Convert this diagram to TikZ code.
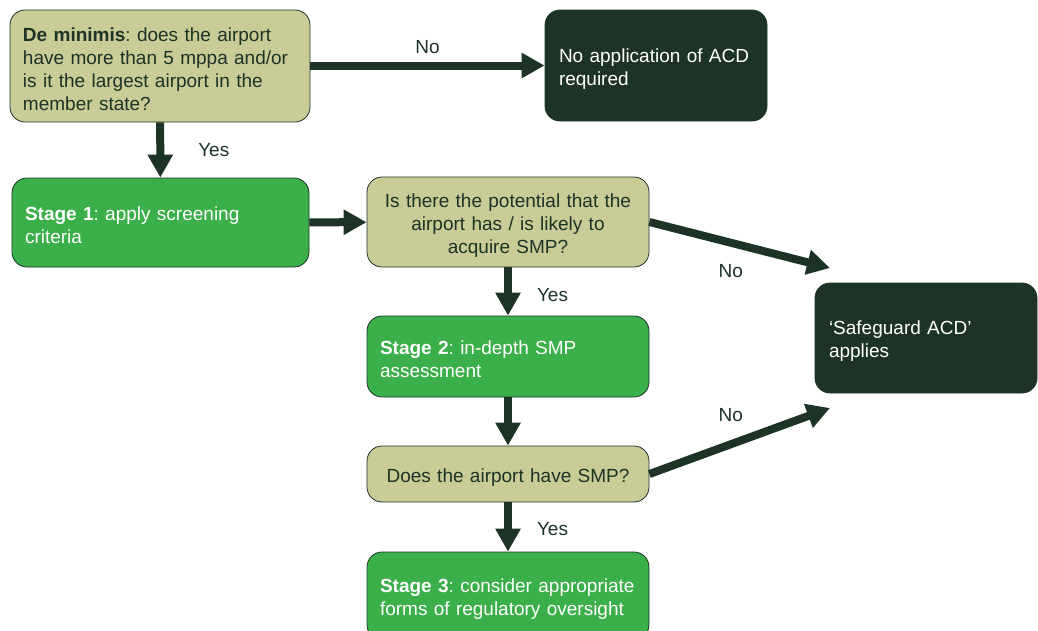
\documentclass[tikz,border=0pt]{standalone}
\usepackage{fontspec}
\setmainfont{Liberation Sans}
\usetikzlibrary{arrows.meta}
\definecolor{khaki}{HTML}{C9CC96}
\definecolor{forest}{HTML}{1C3326}
\definecolor{leaf}{HTML}{3BAF49}
\frenchspacing
\hyphenpenalty=10000
\newcommand{\toplift}{\rule{0pt}{20pt}}
\tikzset{
    >={Triangle[width=24pt,length=23pt]} % Default arrow tip
}
\tikzstyle{box}=[
    draw = forest,
    line width = 0.8pt,
    rounded corners = 15pt,
    inner sep = 0pt,
    align = left,
    font = \fontsize{19}{23}\selectfont
]
\tikzstyle{question}=[box, fill = khaki, text = forest]
\tikzstyle{stagebox}=[box, fill = leaf, text = white]
\tikzstyle{outcome}=[box, fill = forest, text = white]
\tikzstyle{flow}=[->, draw = forest, line width = 8pt]
\tikzstyle{lbl}=[inner sep = 0pt, text = forest, font = \fontsize{19}{23}\selectfont]

\begin{document}
\begin{tikzpicture}[x=1pt, y=-1pt]
    \clip (0,0) rectangle (1038,630);

    % left column
    \node[question, minimum width=300pt, minimum height=112pt, text width=274pt]
        (demin) at (160,66)
        {\toplift\textbf{De minimis}: does the airport\\ have more than 5 mppa and/or\\ is it the largest airport in the\\ member state?};
    \node[stagebox, minimum width=297pt, minimum height=89pt, text width=271pt]
        (stage1) at (160.5,222.5)
        {\toplift\textbf{Stage 1}: apply screening\\ criteria};

    % middle column
    \node[question, minimum width=282pt, minimum height=90pt, text width=270pt, align=center]
        (potential) at (508,222)
        {\toplift Is there the potential that the\\ airport has / is likely to\\ acquire SMP?};
    \node[stagebox, minimum width=282pt, minimum height=81pt, text width=256pt]
        (stage2) at (508,356.5)
        {\toplift\textbf{Stage 2}: in-depth SMP\\ assessment};
    \node[question, minimum width=282pt, minimum height=56pt, text width=270pt, align=center]
        (hassmp) at (508,474)
        {\toplift Does the airport have SMP?};
    \node[stagebox, minimum width=282pt, minimum height=88pt, text width=256pt]
        (stage3) at (508,596)
        {\toplift\textbf{Stage 3}: consider appropriate\\ forms of regulatory oversight};

    % outcomes
    \node[outcome, minimum width=222pt, minimum height=111pt, text width=194pt]
        (noacd) at (656,65.5)
        {\toplift No application of ACD\\ required};
    \node[outcome, minimum width=222pt, minimum height=110pt, text width=194pt]
        (safeguard) at (926,338)
        {\toplift‘Safeguard ACD’\\ applies};

    \coordinate (safetop) at (830,268);
    \coordinate (safebot) at (830,408);

    % connectors
    \draw[flow] (demin.east |- noacd.west) -- (noacd.west)
        node[lbl, midway, above=8pt] {No};
    \draw[flow] (demin) -- (stage1)
        node[lbl, midway, right=34pt] {Yes};
    \draw[flow] (stage1) -- (potential);
    \draw[flow] (potential.east) -- (safetop)
        node[lbl, pos=0.45, below=18pt] {No};
    \draw[flow] (potential) -- (stage2)
        node[lbl, midway, right=25pt, yshift=-4pt] {Yes};
    \draw[flow] (stage2) -- (hassmp);
    \draw[flow] (hassmp.east) -- (safebot)
        node[lbl, pos=0.45, above=19pt] {No};
    \draw[flow] (hassmp) -- (stage3)
        node[lbl, midway, right=25pt, yshift=-2pt] {Yes};
\end{tikzpicture}
\end{document}
